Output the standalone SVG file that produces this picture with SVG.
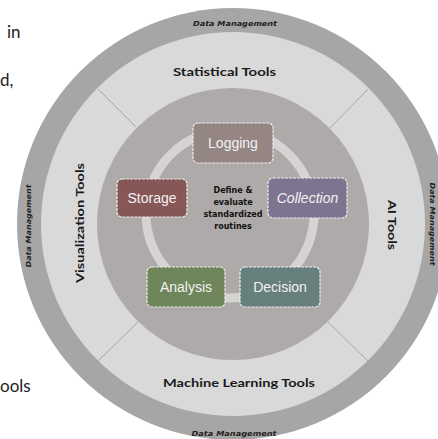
<svg xmlns="http://www.w3.org/2000/svg" width="438" height="439" viewBox="0 0 438 439">
<style>
.bg{font-family:Lato,"Liberation Sans",sans-serif;font-size:17px;fill:#222}
.lab{font-family:Lato,"Liberation Sans",sans-serif;font-weight:bold;font-size:12px;fill:#1a1a1a;text-anchor:middle}
.dm{font-family:"DejaVu Sans",sans-serif;font-weight:bold;font-style:italic;font-size:7px;fill:#222;text-anchor:middle}
.ctr{font-family:"DejaVu Sans",sans-serif;font-weight:bold;font-size:8px;fill:#111;text-anchor:middle}
.box{stroke:#ECECEC;stroke-width:1.2;stroke-dasharray:3 1}
.nt{font-family:"Liberation Sans",Arial,sans-serif;font-size:14px;fill:#F2F2F2;text-anchor:middle}
.div{stroke:#9A9A9A;stroke-width:0.8}
</style>
<rect width="438" height="439" fill="#FFFFFF"/>
<text class="bg" x="7" y="38">in</text>
<text class="bg" x="0" y="86">d,</text>
<text class="bg" x="0" y="392">ools</text>
<g id="rings">
<circle cx="233" cy="224" r="216" fill="#A6A6A6"/>
<circle cx="233" cy="224" r="192" fill="#D9D9D9"/>
<circle cx="233" cy="224" r="136" fill="#AEAAA9"/>
<circle cx="230" cy="214" r="84" fill="none" stroke="#D6D4D3" stroke-width="9"/>
</g>
<g id="connectors">
<line class="div" x1="98" y1="89" x2="136" y2="127"/>
<line class="div" x1="368" y1="89" x2="330" y2="128"/>
<line class="div" x1="97" y1="362" x2="138" y2="322"/>
<line class="div" x1="328" y1="322" x2="370" y2="363"/>
</g>
<g id="labels">
<text class="dm" x="235" y="26" textLength="84" lengthAdjust="spacingAndGlyphs">Data Management</text>
<text class="dm" x="234" y="436" textLength="85" lengthAdjust="spacingAndGlyphs">Data Management</text>
<text class="dm" transform="translate(31,226) rotate(-90)" textLength="83" lengthAdjust="spacingAndGlyphs">Data Management</text>
<text class="dm" transform="translate(430,224) rotate(90)" textLength="83" lengthAdjust="spacingAndGlyphs">Data Management</text>
<text class="lab" x="224.5" y="76" textLength="103" lengthAdjust="spacingAndGlyphs">Statistical Tools</text>
<text class="lab" x="239" y="387" textLength="152" lengthAdjust="spacingAndGlyphs">Machine Learning Tools</text>
<text class="lab" transform="translate(84,223) rotate(-90)" textLength="120" lengthAdjust="spacingAndGlyphs">Visualization Tools</text>
<text class="lab" transform="translate(388,225) rotate(90)" textLength="50" lengthAdjust="spacingAndGlyphs">AI Tools</text>
</g>
<g id="center">
<text class="ctr" x="233" y="193">Define &amp;</text>
<text class="ctr" x="233" y="205">evaluate</text>
<text class="ctr" x="233" y="217">standardized</text>
<text class="ctr" x="233" y="229">routines</text>
</g>
<g id="logging"><rect class="box" x="193" y="123" width="80" height="40" rx="5" fill="#958583"/><text class="nt" x="233" y="148">Logging</text></g>
<g id="storage"><rect class="box" x="117" y="179" width="70" height="38" rx="5" fill="#875757"/><text class="nt" x="152" y="203">Storage</text></g>
<g id="collection"><rect class="box" x="268" y="178" width="79" height="40" rx="5" fill="#7E7490"/><text class="nt" x="307.5" y="203" font-style="italic">Collection</text></g>
<g id="analysis"><rect class="box" x="147" y="267" width="78" height="40" rx="5" fill="#6F865A"/><text class="nt" x="186" y="292">Analysis</text></g>
<g id="decision"><rect class="box" x="240" y="267" width="80" height="40" rx="5" fill="#677F7D"/><text class="nt" x="280" y="292">Decision</text></g>
</svg>
